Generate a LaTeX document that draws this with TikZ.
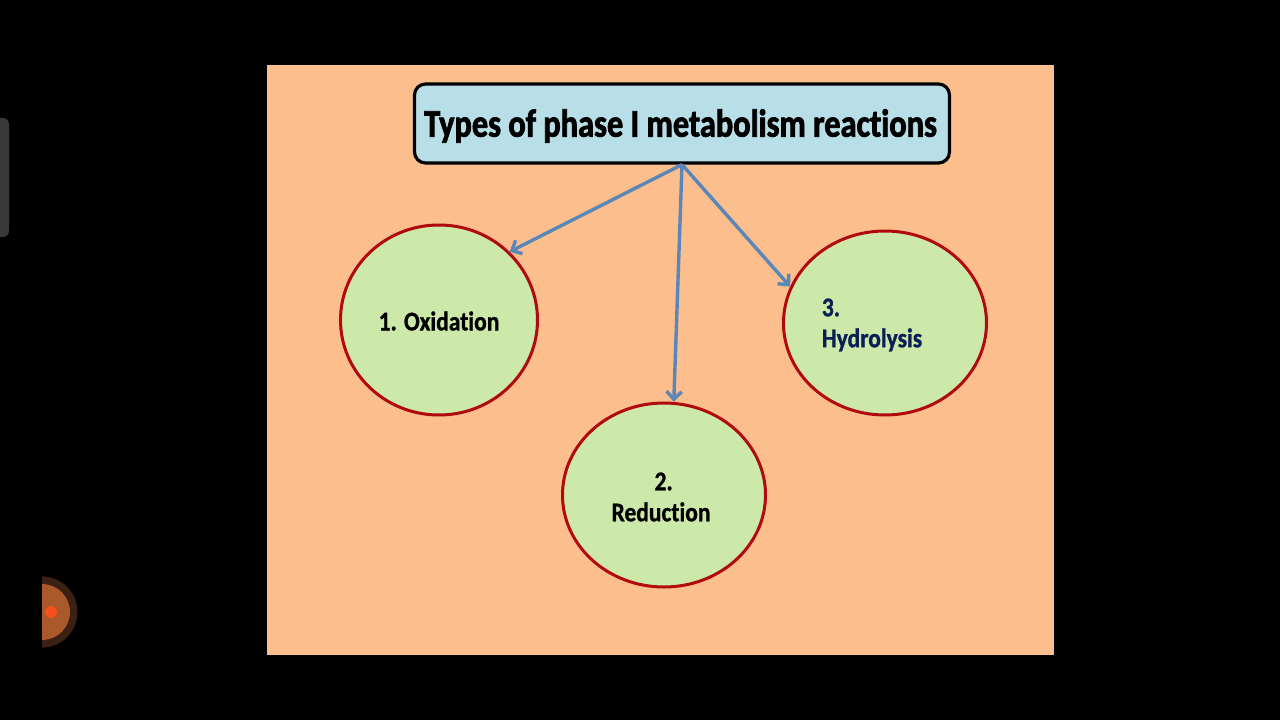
\documentclass[tikz,border=0pt]{standalone}
\usepackage{fontspec}
\setmainfont{Carlito}
\newfontfamily\titlefont[FakeStretch=0.83,Ligatures=NoCommon,BoldFeatures={FakeBold=2}]{Carlito}
\newfontfamily\topicfont[FakeStretch=0.87,Ligatures=NoCommon,BoldFeatures={FakeBold=1}]{Carlito}
\usetikzlibrary{shapes.geometric,arrows.meta}
\definecolor{slidebg}{HTML}{FBBE8C}
\definecolor{titlefill}{HTML}{B8DFE8}
\definecolor{ovalfill}{HTML}{CDE9A9}
\definecolor{ovalline}{HTML}{B00A0E}
\definecolor{arrowblue}{HTML}{5A86B8}
\definecolor{navytext}{HTML}{0A1F55}
\definecolor{dotring}{HTML}{3A2114}
\definecolor{dotdisc}{HTML}{A9592A}
\definecolor{dotcore}{HTML}{F4501E}
\tikzset{
  titlebox/.style={draw=black,fill=titlefill,line width=3.2pt,rounded corners=11pt,minimum width=535pt,minimum height=79pt,inner sep=0pt},
  titlelabel/.style={font=\titlefont\fontsize{39}{42}\selectfont\bfseries,inner sep=0pt},
  topic/.style={ellipse,draw=ovalline,fill=ovalfill,line width=3pt,inner sep=0pt},
  topiclabel/.style={font=\topicfont\fontsize{27}{31}\selectfont\bfseries,align=left,inner sep=0pt},
  link/.style={draw=arrowblue,line width=3.4pt,-{Straight Barb[length=8pt,width=15pt]}}
}
\begin{document}
\begin{tikzpicture}[x=1pt,y=-1pt]
\useasboundingbox (0,0) rectangle (1280,720);
\fill[black] (0,0) rectangle (1280,720);
\fill[slidebg] (267,65) rectangle (1054,655);
% phone overlay
\fill[black!78!white,rounded corners=6pt] (-12,118) rectangle (9,237);
\begin{scope}
\clip (42,570) rectangle (90,655);
\fill[dotring] (42,612) circle (35.5);
\fill[dotdisc] (42,612) circle (28);
\fill[dotcore] (51,612) circle (6);
\end{scope}
% title and topics
\node[titlebox] (title) at (682,123.5) {};
\node[titlelabel] (titletext) at (680.5,126) {Types of phase I metabolism reactions};
\node[topic,minimum width=197pt,minimum height=190pt] (oxidation) at (439,320) {};
\node[topic,minimum width=203pt,minimum height=184pt] (reduction) at (664,495) {};
\node[topic,minimum width=203pt,minimum height=184pt] (hydrolysis) at (885,323) {};
\node[topiclabel] (oxidationtext) at (439,321) {1. Oxidation};
\node[topiclabel] (reductiontext) at (661,497) {\hspace*{43pt}2.\\Reduction};
\node[topiclabel,text=navytext] (hydrolysistext) at (872,325) {3.\\Hydrolysis};
% arrows
\draw[link] (title.south) -- (oxidation.44);
\draw[link] (title.south) -- (reduction.84);
\draw[link] (title.south) -- (hydrolysis.159);
\end{tikzpicture}
\end{document}
